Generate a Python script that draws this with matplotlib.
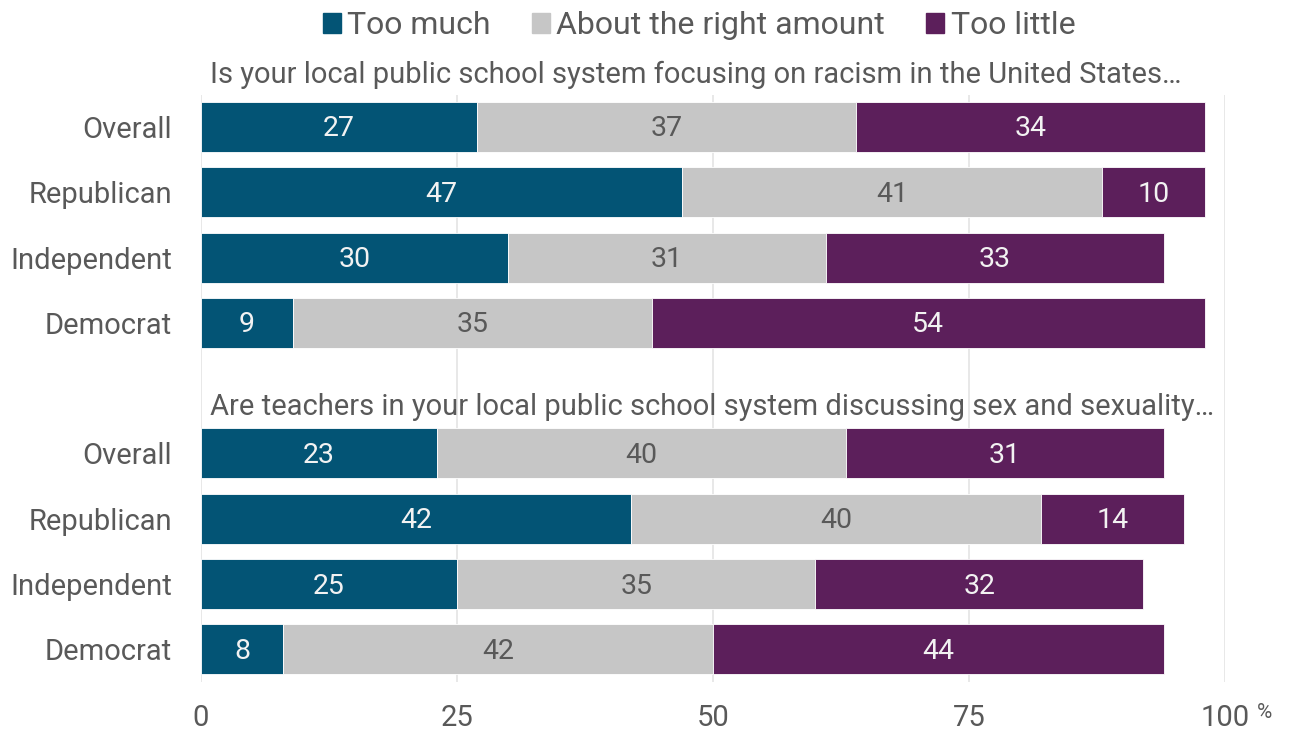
import numpy as np
import matplotlib
matplotlib.use("Agg")
import matplotlib.pyplot as plt
from matplotlib.patches import Rectangle

plt.rcParams['font.family'] = ['Roboto', 'DejaVu Sans']

# Survey answers, in percent
groups = ["Overall", "Republican", "Independent", "Democrat"]
answers = ["Too much", "About the right amount", "Too little"]
racism_too_much = [27, 47, 30, 9]
racism_right = [37, 41, 31, 35]
racism_too_little = [34, 10, 33, 54]
sex_too_much = [23, 42, 25, 8]
sex_right = [40, 40, 35, 42]
sex_too_little = [31, 14, 32, 44]
questions = [
    "Is your local public school system focusing on racism in the United States\u2026",
    "Are teachers in your local public school system discussing sex and sexuality\u2026",
]
xticks = [0, 25, 50, 75, 100]

colors = ["#035475", "#c6c6c6", "#5c1f5b"]
label_colors = ["#f2f2f2", "#595959", "#f2f2f2"]
text_gray = "#595959"

fig = plt.figure(figsize=(12.93, 7.32), dpi=100)
ax = fig.add_axes([201 / 1293, 1 - 682 / 732, 1024 / 1293, 587 / 732])

blocks = [
    (np.arange(4), [racism_too_much, racism_right, racism_too_little]),
    (np.arange(5, 9), [sex_too_much, sex_right, sex_too_little]),
]
ypos_all = []
for ypos, series in blocks:
    left = np.zeros(4)
    for vals, color, lcol in zip(series, colors, label_colors):
        vals = np.array(vals, dtype=float)
        ax.barh(ypos, vals, left=left, height=0.765, color=color,
                edgecolor="white", linewidth=0.6, zorder=2)
        for y, l, v in zip(ypos, left, vals):
            ax.text(l + v / 2, y + 0.03, f"{v:.0f}", ha="center", va="center",
                    fontsize=20.5, color=lcol, zorder=3)
        left += vals
    ypos_all.extend(ypos)

ax.set_yticks(ypos_all)
ax.set_yticklabels(groups * 2)
ax.set_xticks(xticks)
ax.set_xticklabels([str(t) for t in xticks])
ax.set_xlim(0, 100)
ax.set_ylim(8.5, -0.49)
ax.tick_params(axis="both", length=0, labelsize=21, labelcolor=text_gray)
ax.tick_params(axis="y", pad=21)
ax.tick_params(axis="x", pad=16)
ax.grid(axis="x", color="#e4e4e4", linewidth=1.2, zorder=0)
ax.set_axisbelow(True)
for s in ax.spines.values():
    s.set_visible(False)

# question headers above each block
ax.text(0.9, -0.8, questions[0], ha="left", va="center", fontsize=21,
        color=text_gray, clip_on=False)
ax.text(0.9, 4.29, questions[1], ha="left", va="center", fontsize=21,
        color=text_gray, clip_on=False)

# percent sign next to the last tick
fig.text(1265 / 1293, 1 - 713 / 732, "%", ha="center", va="center",
         fontsize=15, color=text_gray)

# legend
handles = [Rectangle((0, 0), 1, 1, color=c) for c in colors]
fig.legend(handles, answers, loc="center", bbox_to_anchor=(699 / 1293, 1 - 26 / 732),
           ncol=3, frameon=False, fontsize=23, handlelength=0.56, handleheight=0.56,
           handletextpad=0.2, columnspacing=1.3, labelcolor=text_gray)

fig.savefig("out.png", dpi=100)
